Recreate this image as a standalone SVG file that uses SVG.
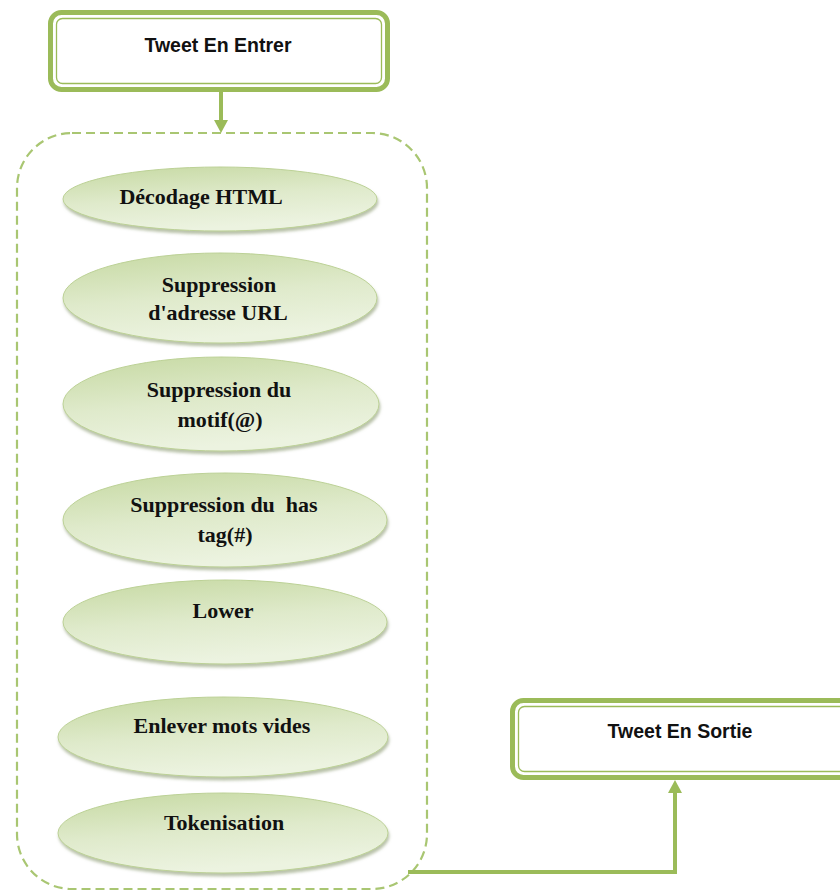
<svg xmlns="http://www.w3.org/2000/svg" width="840" height="891" viewBox="0 0 840 891">
<defs>
  <linearGradient id="eg" x1="0" y1="0" x2="0.3" y2="1">
    <stop offset="0" stop-color="#c6d9a2"/>
    <stop offset="0.55" stop-color="#dfeacb"/>
    <stop offset="1" stop-color="#ecf3e0"/>
  </linearGradient>
  <filter id="sh" x="-10%" y="-20%" width="120%" height="150%">
    <feDropShadow dx="1" dy="3" stdDeviation="1.5" flood-color="#8a9a70" flood-opacity="0.6"/>
  </filter>
</defs>
<style>
  .box-o{fill:#fff;stroke:#9bbb59;stroke-width:5}
  .box-i{fill:none;stroke:#9bbb59;stroke-width:1.3}
  .btxt{font-family:"Liberation Sans",Arial,sans-serif;font-weight:bold;font-size:19.5px;fill:#111;text-anchor:middle}
  .ell{fill:url(#eg);stroke:#bcd196;stroke-width:1;filter:url(#sh)}
  .etxt{font-family:"Liberation Serif","Times New Roman",serif;font-weight:bold;font-size:22px;fill:#111;text-anchor:middle}
  .cont{fill:none;stroke:#a9c672;stroke-width:2.2;stroke-dasharray:9 5}
  .conn{fill:none;stroke:#9bbb59;stroke-width:4}
</style>
<rect width="840" height="891" fill="#fff"/>

<g id="container">
  <rect class="cont" x="17" y="133" width="410" height="756" rx="55" ry="55"/>
</g>

<g id="connectors">
  <line class="conn" x1="221" y1="92" x2="221" y2="122"/>
  <path d="M214,120 L228,120 L221,133 Z" fill="#9bbb59"/>
  <polyline class="conn" points="408,872 675,872 675,792"/>
  <path d="M668,793 L682,793 L675,780 Z" fill="#9bbb59"/>
</g>

<g id="tweet-entrer">
  <rect class="box-o" x="50.5" y="12.5" width="337" height="77" rx="11"/>
  <rect class="box-i" x="56.5" y="18.5" width="325" height="65" rx="6"/>
  <text class="btxt" x="218" y="52">Tweet En Entrer</text>
</g>

<g id="tweet-sortie">
  <rect class="box-o" x="512.5" y="700.5" width="345" height="77" rx="11"/>
  <rect class="box-i" x="518.5" y="706.5" width="333" height="65" rx="6"/>
  <text class="btxt" x="680" y="738">Tweet En Sortie</text>
</g>

<g id="decodage">
  <ellipse class="ell" cx="220" cy="199" rx="157" ry="32"/>
  <text class="etxt" x="201" y="204">Décodage HTML</text>
</g>

<g id="url">
  <ellipse class="ell" cx="220" cy="298" rx="157" ry="45"/>
  <text class="etxt" x="219" y="292">Suppression</text>
  <text class="etxt" x="218" y="320">d'adresse URL</text>
</g>

<g id="motif">
  <ellipse class="ell" cx="221" cy="404" rx="158" ry="47"/>
  <text class="etxt" x="219" y="397">Suppression du</text>
  <text class="etxt" x="220" y="427">motif(@)</text>
</g>

<g id="hashtag">
  <ellipse class="ell" cx="225" cy="520" rx="162" ry="47"/>
  <text class="etxt" x="224" y="512" xml:space="preserve">Suppression du  has</text>
  <text class="etxt" x="225" y="542">tag(#)</text>
</g>

<g id="lower">
  <ellipse class="ell" cx="225" cy="622" rx="162" ry="42"/>
  <text class="etxt" x="223" y="618">Lower</text>
</g>

<g id="enlever">
  <ellipse class="ell" cx="223" cy="737" rx="165" ry="40"/>
  <text class="etxt" x="222" y="733">Enlever mots vides</text>
</g>

<g id="tokenisation">
  <ellipse class="ell" cx="223" cy="833" rx="165" ry="40"/>
  <text class="etxt" x="224" y="830">Tokenisation</text>
</g>
</svg>
